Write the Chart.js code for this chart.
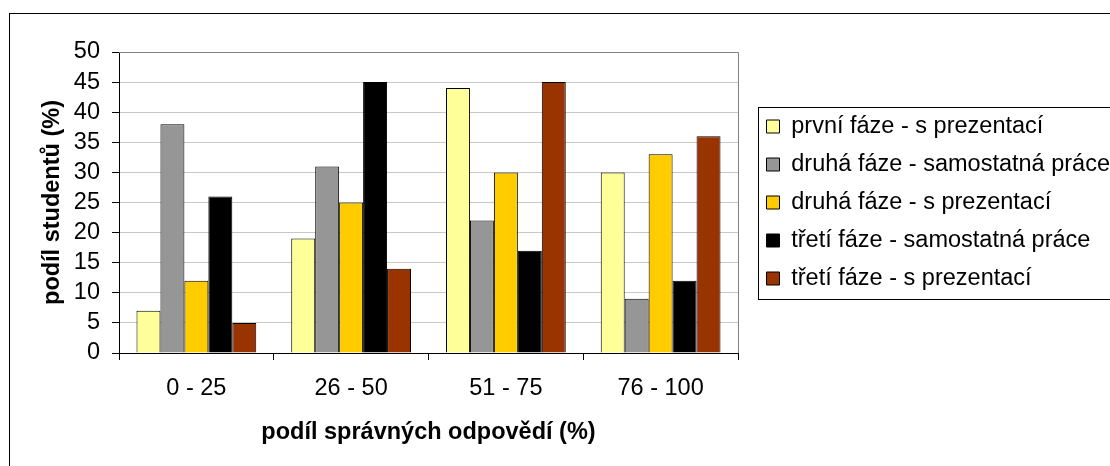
<!DOCTYPE html>
<html>
<head>
<meta charset="utf-8">
<script src="https://cdn.jsdelivr.net/npm/chart.js@4.4.1/dist/chart.umd.min.js"></script>
<style>
  html, body { margin: 0; padding: 0; background: #fff; }
  #wrap { width: 1110px; height: 466px; }
</style>
</head>
<body>
<div id="wrap"><canvas id="myChart"></canvas></div>
<script>
// data
const categories = ['0 - 25', '26 - 50', '51 - 75', '76 - 100'];
const seriesNames = [
  'první fáze - s prezentací',
  'druhá fáze - samostatná práce',
  'druhá fáze - s prezentací',
  'třetí fáze - samostatná práce',
  'třetí fáze - s prezentací'
];
const prvniPrezentace = [7, 19, 44, 30];
const druhaSamostatna = [38, 31, 22, 9];
const druhaPrezentace = [12, 25, 30, 33];
const tretiSamostatna = [26, 45, 17, 12];
const tretiPrezentace = [5, 14, 45, 36];
const yTicks = [0, 5, 10, 15, 20, 25, 30, 35, 40, 45, 50];

const colors = ['#FFFF99', '#969696', '#FFCC00', '#000000', '#993300'];
const values = [prvniPrezentace, druhaSamostatna, druhaPrezentace, tretiSamostatna, tretiPrezentace];

const FONT = "'Liberation Sans', Arial, sans-serif";
const SIZE = 23.5;
Chart.defaults.font.family = FONT;
Chart.defaults.color = '#000';

const data = {
  labels: categories,
  datasets: seriesNames.map((name, i) => ({
    label: name,
    data: values[i],
    backgroundColor: colors[i],
    borderColor: '#000',
    borderWidth: 1,
    categoryPercentage: 0.774,
    barPercentage: 1
  }))
};

// frame of the whole chart, plot border and legend border
const frames = {
  id: 'frames',
  beforeDraw(chart) {
    const ctx = chart.ctx;
    ctx.save();
    ctx.fillStyle = '#fff';
    ctx.fillRect(0, 0, chart.width, chart.height);
    ctx.strokeStyle = '#000';
    ctx.lineWidth = 1;
    ctx.strokeRect(9.5, 13.5, chart.width + 20, chart.height + 20);
    ctx.restore();
  },
  afterDraw(chart) {
    const ctx = chart.ctx;
    const a = chart.chartArea;
    ctx.save();
    ctx.strokeStyle = '#808080';
    ctx.lineWidth = 1;
    ctx.beginPath();
    ctx.moveTo(a.left, Math.round(a.top) + 0.5);
    ctx.lineTo(Math.round(a.right) + 0.5, Math.round(a.top) + 0.5);
    ctx.lineTo(Math.round(a.right) + 0.5, a.bottom);
    ctx.stroke();

    const lg = chart.legend;
    const hb = lg.legendHitBoxes;
    if (hb && hb.length) {
      const top = Math.round(hb[0].top - 8) + 0.5;
      const last = hb[hb.length - 1];
      const bottom = Math.round(last.top + last.height + 9) + 0.5;
      const left = Math.round(lg.left + 6) + 0.5;
      ctx.strokeStyle = '#000';
      ctx.strokeRect(left, top, chart.width, bottom - top);
    }
    ctx.restore();
  }
};

const config = {
  type: 'bar',
  data,
  options: {
    responsive: true,
    maintainAspectRatio: false,
    animation: false,
    layout: { padding: { top: 52, left: 0, right: 0, bottom: 0 } },
    scales: {
      x: {
        grid: { display: true, drawOnChartArea: false, offset: true, tickLength: 7, color: '#000' },
        border: { color: '#000' },
        ticks: { font: { size: SIZE }, padding: 14 },
        title: {
          display: true,
          text: 'podíl správných odpovědí (%)',
          font: { size: SIZE, weight: 'bold' },
          padding: { top: 0, bottom: 19 }
        },
        afterFit(scale) { scale.height = 113; }
      },
      y: {
        min: 0,
        max: 50,
        afterBuildTicks(scale) { scale.ticks = yTicks.map(v => ({ value: v })); },
        grid: {
          color: ctx => (ctx.tick && ctx.tick.value === 50 ? '#808080' : '#c8c8c8'),
          tickColor: '#000',
          tickLength: 7
        },
        border: { color: '#000' },
        ticks: { font: { size: SIZE }, padding: 12, autoSkip: false },
        title: {
          display: true,
          text: 'podíl studentů (%)',
          font: { size: SIZE, weight: 'bold' },
          padding: { top: 38, bottom: 0 }
        },
        afterFit(scale) { scale.width = 119; }
      },
      gap: {
        type: 'linear',
        position: 'right',
        display: true,
        grid: { display: false },
        border: { display: false },
        ticks: { display: false },
        afterFit(scale) { scale.width = 14; }
      }
    },
    plugins: {
      legend: {
        position: 'right',
        fullSize: false,
        maxWidth: 358,
        labels: {
          boxWidth: 13,
          boxHeight: 13,
          padding: 14.5,
          font: { size: SIZE },
          color: '#000'
        }
      },
      tooltip: { enabled: false }
    }
  },
  plugins: [frames]
};

const myChart = new Chart(document.getElementById('myChart'), config);
</script>
</body>
</html>
